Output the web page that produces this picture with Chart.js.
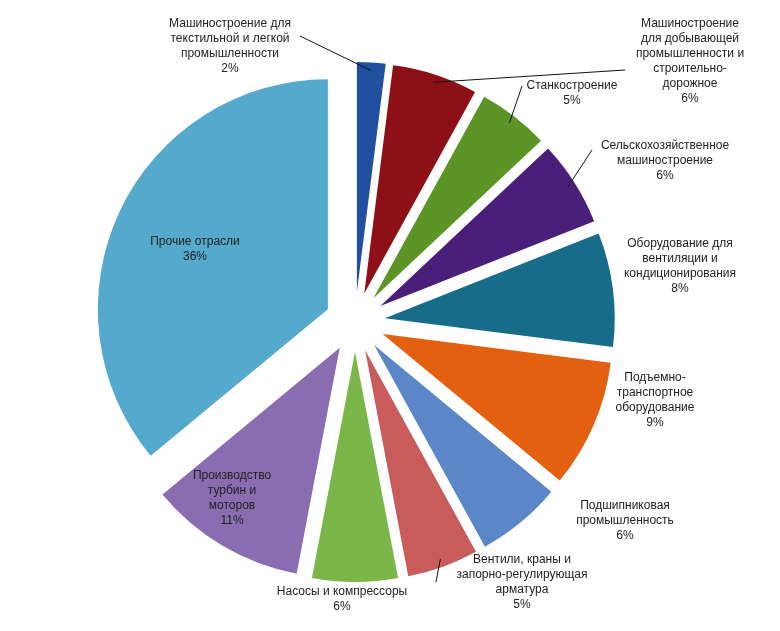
<!DOCTYPE html>
<html>
<head>
<meta charset="utf-8">
<script src="https://cdn.jsdelivr.net/npm/chart.js@4/dist/chart.umd.min.js"></script>
<style>
  html, body { margin: 0; padding: 0; background: #fff; }
  #wrap { width: 780px; height: 631px; }
</style>
</head>
<body>
<div id="wrap"><canvas id="pieChart" width="780" height="631"></canvas></div>
<script>
const labels = [
  ['Машиностроение для', 'текстильной и легкой', 'промышленности'],
  ['Машиностроение', 'для добывающей', 'промышленности и', 'строительно-', 'дорожное'],
  ['Станкостроение'],
  ['Сельскохозяйственное', 'машиностроение'],
  ['Оборудование для', 'вентиляции и', 'кондиционирования'],
  ['Подъемно-', 'транспортное', 'оборудование'],
  ['Подшипниковая', 'промышленность'],
  ['Вентили, краны и', 'запорно-регулирующая', 'арматура'],
  ['Насосы и компрессоры'],
  ['Производство', 'турбин и', 'моторов'],
  ['Прочие отрасли']
];
const shares = [2, 6, 5, 6, 8, 9, 6, 5, 6, 11, 36];
const colors = ['#1f4f9e', '#8c1016', '#5c9426', '#4a1f7a', '#176c8a', '#e2600f',
                '#5b87c8', '#c95b5b', '#7ab648', '#8a6db0', '#55a9cc'];

// label layout: text centre x, top y, optional leader line end point
const labelPos = [
  { x: 230, y: 18, lx: 300, ly: 36 },
  { x: 690, y: 18, lx: 625, ly: 70 },
  { x: 572, y: 80, lx: 522, ly: 86 },
  { x: 665, y: 140, lx: 592, ly: 150 },
  { x: 680, y: 238 },
  { x: 655, y: 372 },
  { x: 625, y: 500 },
  { x: 522, y: 554, lx: 436, ly: 582 },
  { x: 342, y: 586 },
  { x: 232, y: 470 },
  { x: 195, y: 236 }
];
const explode = 30;

const explodePlugin = {
  id: 'explode',
  afterDatasetUpdate(chart) {
    chart.getDatasetMeta(0).data.forEach(arc => {
      const mid = (arc.startAngle + arc.endAngle) / 2;
      arc.x += Math.cos(mid) * explode;
      arc.y += Math.sin(mid) * explode;
    });
  }
};

const labelPlugin = {
  id: 'sliceLabels',
  afterDraw(chart) {
    const ctx = chart.ctx;
    const arcs = chart.getDatasetMeta(0).data;
    ctx.save();
    ctx.font = '12px "Liberation Sans", Arial, sans-serif';
    ctx.fillStyle = '#222';
    ctx.textAlign = 'center';
    ctx.textBaseline = 'top';
    arcs.forEach((arc, i) => {
      const p = labelPos[i];
      if (p.lx !== undefined) {
        const mid = (arc.startAngle + arc.endAngle) / 2;
        const r = arc.outerRadius - 8;
        ctx.strokeStyle = '#111';
        ctx.lineWidth = 1;
        ctx.beginPath();
        ctx.moveTo(arc.x + Math.cos(mid) * r, arc.y + Math.sin(mid) * r);
        ctx.lineTo(p.lx, p.ly);
        ctx.stroke();
      }
      const lines = labels[i].concat([shares[i] + '%']);
      lines.forEach((t, k) => ctx.fillText(t, p.x, p.y + k * 15));
    });
    ctx.restore();
  }
};

new Chart(document.getElementById('pieChart'), {
  type: 'pie',
  data: {
    labels: labels.map(l => l.join(' ')),
    datasets: [{ data: shares, backgroundColor: colors, borderWidth: 0 }]
  },
  options: {
    responsive: false,
    animation: false,
    layout: { padding: { left: 125, right: 195, top: 92, bottom: 79 } },
    plugins: { legend: { display: false }, tooltip: { enabled: false } }
  },
  plugins: [explodePlugin, labelPlugin]
});
</script>
</body>
</html>
